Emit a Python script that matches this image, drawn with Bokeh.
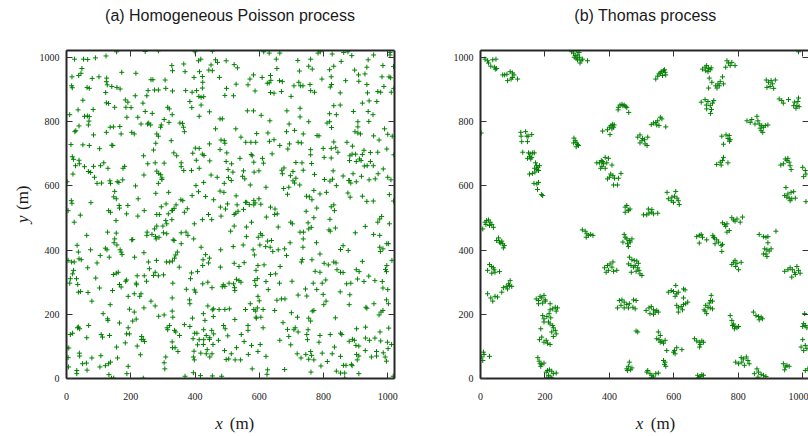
import math
from bokeh.plotting import figure
from bokeh.layouts import row, column
from bokeh.models import Range1d, FixedTicker, LinearAxis, ColumnDataSource
from bokeh.core.properties import value
from bokeh.embed import file_html
from bokeh.resources import INLINE

# ---------------- data (metres) ----------------
poisson_x = [
    156,245,286,400,454,
    25,53,66,90,123,418,411,464,470,
    328,365,450,
    48,330,414,443,454,17,38,45,80,101,125,172,216,263,269,307,369,397,423,476,
    124,127,141,16,18,64,71,167,157,274,254,286,309,330,371,391,405,423,424,412,419,427,
    51,122,124,131,183,191,214,250,238,150,185,201,315,320,384,390,419,445,
    36,83,10,56,65,71,70,68,188,222,245,267,252,256,262,232,304,295,319,329,353,361,413,478,
    39,29,26,84,124,136,146,166,170,203,211,281,286,293,364,367,464,
    14,51,71,103,141,144,278,326,445,478,481,
    18,22,39,40,56,240,271,334,343,393,401,413,423,428,446,404,253,276,304,181,176,129,116,106,84,28,20,2,
    68,75,87,95,281,287,293,297,241,357,357,365,389,413,450,427,469,
    109,135,137,158,163,175,215,286,297,403,411,391,362,356,433,458,478,479,
    150,147,155,15,17,76,164,165,191,223,278,318,335,330,341,295,310,376,
    614,631,664,783,790,827,863,876,1007,1007,
    497,522,532,653,720,760,888,956,939,855,1018,985,
    655,725,754,765,819,832,897,935,571,582,609,635,636,631,663,672,795,824,869,909,929,910,982,1004,1009,
    528,565,625,708,723,728,736,758,821,825,935,988,498,493,520,587,635,646,669,699,760,772,852,937,969,978,1011,1019,
    921,942,966,832,852,727,686,563,582,606,819,840,893,939,954,727,633,693,754,811,819,825,907,907,941,990,
    527,485,710,685,627,592,491,493,543,558,574,589,632,646,664,694,721,731,737,780,786,898,907,915,956,1000,1014,973,873,890,832,
    689,760,799,824,838,926,499,540,575,578,640,610,760,802,824,845,882,889,900,912,921,946,969,997,1019,
    497,514,583,613,714,733,763,881,902,917,946,927,936,955,986,503,518,551,584,599,670,677,672,697,705,737,772,830,861,880,892,902,918,942,961,970,1000,1010,
    491,504,513,548,555,572,621,676,692,710,726,714,705,803,820,828,840,885,879,
    490,528,557,561,583,587,599,605,688,747,756,764,770,789,809,876,883,921,935,955,1005,1018,
    501,531,551,569,583,495,635,649,779,824,832,
    5,43,131,137,187,222,242,281,289,317,328,367,442,452,24,154,274,281,300,312,309,328,398,423,481,
    63,128,155,150,148,157,75,121,126,167,170,206,203,251,250,266,277,279,288,302,312,332,335,357,372,378,357,396,419,480,33,37,
    5,16,24,39,46,66,95,105,133,173,212,241,255,280,258,311,321,330,336,340,345,351,389,408,424,425,433,445,479,442,
    22,19,12,10,31,35,91,103,146,155,161,143,165,170,184,187,220,217,218,242,249,276,271,286,302,331,373,386,398,424,440,453,485,
    37,44,67,79,192,211,228,232,276,329,383,384,402,440,454,458,475,
    136,196,241,263,287,304,329,331,114,128,129,211,392,426,431,457,
    37,41,34,69,12,19,108,112,134,165,192,206,217,187,196,234,239,313,315,321,336,340,352,367,384,399,406,427,446,452,435,458,
    63,1,7,40,41,156,183,220,233,243,329,330,394,408,413,426,427,445,456,473,
    5,79,107,159,192,230,309,338,347,397,395,398,418,438,446,453,435,
    50,62,64,32,32,6,104,121,131,137,132,140,147,188,239,304,306,369,395,417,454,
    522,527,534,622,648,656,746,770,820,834,981,975,969,1005,522,511,560,576,659,698,703,727,738,752,754,762,817,821,837,899,930,956,975,
    560,597,604,609,626,638,602,620,634,642,659,679,685,696,737,736,778,789,853,861,877,975,985,997,1002,977,
    519,550,581,585,522,537,553,596,615,590,665,651,635,731,734,764,774,789,802,815,832,839,842,853,861,902,911,921,941,997,996,993,1013,
    488,493,506,520,523,524,529,537,543,586,594,589,621,628,663,702,744,768,779,796,807,852,872,885,882,906,926,960,983,985,1000,
    493,507,557,572,583,589,594,600,596,612,648,655,669,680,721,748,765,770,799,808,801,880,932,935,957,973,979,985,996,1002,
    524,565,565,590,605,591,612,674,700,719,754,760,752,688,708,712,837,903,931,976,1003,
    489,494,502,544,553,576,603,596,621,664,692,698,721,748,750,786,789,821,834,853,857,880,890,896,901,910,931,943,960,978,999,1012,
    492,505,497,513,525,529,542,566,718,730,745,754,763,770,760,796,827,853,903,910,905,930,949,965,965,986,992,996,1001,
    578,626,624,679,761,792,812,840,853,866,866,862,870,887,889,910,1017,483,
]
poisson_y = [
    1018,1019,1021,1018,1020,
    995,995,994,999,1005,995,990,993,985,
    975,980,977,
    966,959,956,961,959,940,944,951,935,940,936,954,951,931,931,930,956,938,941,938,
    925,915,910,912,906,907,904,902,907,899,897,899,904,896,897,892,897,905,923,879,876,878,
    867,891,859,857,868,861,881,881,858,845,845,844,845,840,863,844,852,831,
    837,838,822,817,818,816,802,790,814,814,832,826,793,796,790,793,807,790,798,822,796,795,817,809,
    787,772,769,759,767,783,784,785,762,767,762,762,755,783,783,769,778,
    729,728,726,716,727,726,733,741,731,713,743,
    691,683,680,669,660,694,712,703,694,702,718,717,699,695,678,680,669,672,671,661,655,655,672,663,661,663,637,613,
    645,642,627,608,646,639,635,625,634,672,660,648,648,655,634,611,627,
    609,616,608,613,611,619,600,608,620,601,582,570,554,557,567,557,584,534,
    583,566,560,554,546,548,539,531,539,560,577,580,530,524,541,535,544,529,
    1018,1014,1014,1014,1018,1011,1016,1018,1016,1008,
    990,978,968,995,991,995,1006,1008,993,988,972,975,
    966,958,973,964,962,973,961,970,933,946,938,944,929,921,928,925,933,940,928,946,949,926,940,940,937,
    917,915,920,912,923,912,912,916,908,916,916,910,904,882,881,896,891,889,894,879,897,892,890,890,894,892,892,904,
    858,865,863,850,852,842,834,834,834,820,825,822,832,832,822,815,803,793,800,796,800,782,800,784,801,778,
    778,809,773,769,765,763,741,733,752,736,736,736,739,744,726,731,736,734,762,757,756,769,765,762,756,761,755,743,736,724,737,
    715,713,717,717,719,711,703,686,698,694,700,686,697,689,687,705,694,699,699,684,698,704,705,715,697,
    676,669,674,671,673,672,670,679,676,679,676,662,663,663,653,651,643,647,643,647,649,656,638,632,645,649,636,647,631,617,638,613,630,619,622,638,627,619,
    608,626,617,630,622,603,596,592,596,609,603,624,616,620,615,621,601,609,617,
    580,569,549,549,555,547,560,543,574,568,566,557,586,575,580,578,565,568,552,553,573,553,
    544,541,527,542,541,528,534,528,531,535,541,
    523,509,523,518,513,506,523,511,511,513,523,518,511,495,487,492,466,475,475,482,492,495,482,495,506,
    446,456,453,435,423,416,401,406,401,401,394,433,432,456,446,449,442,435,440,454,451,432,430,454,456,446,420,435,409,401,415,394,
    368,363,363,373,370,345,360,383,378,386,378,392,363,368,342,363,363,366,375,385,394,347,329,333,352,370,386,375,347,360,
    337,326,311,297,311,293,313,282,324,328,331,274,293,285,303,307,320,297,292,320,303,331,321,320,323,297,278,311,276,295,300,283,286,
    269,271,268,241,256,264,256,264,226,251,245,233,269,226,214,217,215,
    230,216,220,241,194,198,210,191,202,186,181,207,188,202,181,193,
    160,155,158,165,137,141,137,129,134,173,158,179,185,139,139,131,122,158,152,165,150,145,134,168,162,141,141,152,127,150,134,139,
    127,96,95,79,70,98,111,101,121,115,114,96,124,105,121,106,121,122,106,119,
    65,64,71,64,38,74,67,96,84,85,67,58,79,90,67,77,77,
    46,48,26,25,15,36,36,40,46,51,12,1,1,15,1,49,30,7,18,9,8,
    511,515,521,503,511,513,521,501,496,523,505,497,487,482,475,459,472,487,472,487,482,456,456,485,466,471,463,459,469,454,474,449,446,
    442,440,451,446,428,430,416,411,409,396,401,404,383,423,435,409,423,388,402,414,399,409,404,420,420,396,
    411,416,401,385,359,349,361,352,354,337,349,326,324,363,371,370,334,331,359,354,363,360,339,331,330,339,333,365,319,352,333,340,368,
    292,287,297,295,283,274,309,305,300,305,311,290,302,277,297,303,279,297,277,297,307,270,295,297,261,310,302,305,302,282,277,
    215,217,215,233,215,210,220,242,256,215,212,244,248,248,260,257,210,212,262,241,230,230,222,219,233,198,207,212,245,233,
    184,165,150,191,191,188,158,174,205,191,188,179,152,153,152,158,189,155,160,145,157,
    165,155,133,137,115,103,106,84,69,119,131,105,145,137,121,113,134,137,98,141,137,116,122,119,103,101,126,119,126,117,113,106,
    87,61,59,77,58,96,58,75,77,64,75,60,72,58,84,79,77,69,75,70,58,87,67,84,70,80,67,54,93,
    30,27,13,28,20,39,53,23,17,17,1,41,41,44,40,15,7,7,
]

thomas_x = [
    14,22,25,38,48,32,43,50,46,
    69,75,82,92,99,104,99,84,95,115,
    283,289,294,297,301,307,312,309,302,291,332,317,299,306,
    428,433,439,446,451,454,427,460,442,
    379,394,400,405,410,415,402,408,413,2,
    125,140,159,126,144,148,128,146,
    290,294,289,297,301,297,304,
    131,149,154,162,167,152,146,156,159,171,174,168,178,183,175,169,152,161,180,166,175,180,177,189,193,
    361,369,375,379,387,397,392,382,377,373,387,408,
    394,400,404,411,416,428,436,413,425,449,454,459,464,
    987,544,550,554,561,568,573,575,565,558,571,
    689,697,702,708,713,716,706,699,765,770,780,790,775,761,
    710,718,751,744,737,730,754,708,734,741,
    887,894,902,915,889,899,910,906,
    927,935,940,956,975,972,982,987,989,979,985,
    685,697,706,724,701,713,702,717,714,720,
    530,537,544,550,558,563,547,554,575,
    827,837,842,858,861,865,873,878,884,892,871,876,868,852,
    488,495,503,509,519,495,511,517,501,
    749,762,772,775,768,754,773,
    733,744,751,754,768,747,
    932,946,954,958,961,964,951,940,
    1000,1008,1003,1010,
    579,606,583,594,602,610,599,614,617,592,
    948,964,972,944,951,958,966,977,954,961,1010,521,532,
    449,459,7,14,19,25,30,35,40,28,17,
    316,325,330,335,342,349,328,446,449,454,462,470,442,456,459,465,
    50,56,59,63,69,74,71,66,
    462,470,477,459,467,475,468,
    385,394,402,411,408,397,390,423,413,
    22,28,34,40,35,45,59,42,
    66,71,80,87,92,97,84,90,22,32,38,45,53,
    173,180,185,190,197,201,193,180,216,216,224,232,239,235,201,
    425,431,439,446,454,462,475,483,480,473,446,459,436,
    193,197,206,213,218,197,211,216,224,226,232,221,235,226,187,190,183,197,208,216,204,
    4,9,11,7,28,178,182,185,190,197,187,
    204,208,214,221,226,235,211,216,206,221,454,459,462,466,470,456,
    506,516,523,530,537,550,751,757,761,765,780,785,790,796,806,813,765,772,
    671,679,685,689,679,702,721,726,733,739,728,747,751,749,723,
    865,878,886,892,917,892,882,889,896,902,886,878,889,
    485,490,480,488,492,495,501,483,780,785,790,796,809,792,801,
    944,954,961,968,975,982,987,992,977,966,
    583,592,599,606,609,614,630,635,630,604,609,614,623,630,637,643,614,627,
    694,699,706,710,714,720,716,713,720,702,697,
    514,523,530,537,542,547,552,537,526,488,483,
    775,780,785,790,796,801,788,782,847,855,863,871,865,875,
    1000,1003,1008,1013,1006,552,558,547,554,563,573,568,578,558,
    599,604,609,625,602,664,671,679,687,692,682,680,1000,995,1008,1013,1003,
    792,801,809,816,825,830,834,819,811,568,573,575,571,940,946,951,958,944,
    850,858,863,871,878,886,861,516,526,532,537,544,552,530,519,674,682,687,692,677,1008,1016,
]
thomas_y = [
    995,990,983,993,995,973,970,966,964,
    946,946,948,956,952,946,938,928,933,933,
    1018,1014,1006,998,993,1001,990,983,1008,1001,990,995,1021,1016,
    845,852,854,852,848,844,837,829,850,
    771,775,783,788,792,790,760,778,783,765,
    767,769,760,755,755,755,738,738,
    749,741,734,736,729,722,726,
    705,703,700,703,703,691,686,684,689,672,663,655,658,663,651,643,637,639,648,608,606,611,589,573,570,
    672,672,679,676,689,686,672,669,661,655,655,665,
    622,627,637,632,624,624,639,603,603,534,539,525,528,
    1018,933,942,949,956,959,954,946,944,952,962,
    964,970,975,966,962,968,956,959,990,983,985,975,975,970,
    936,923,940,925,918,912,918,905,905,912,
    930,923,928,930,907,910,904,918,
    871,866,858,869,861,850,850,874,847,842,863,
    861,869,863,866,852,850,840,838,826,858,
    791,796,798,803,814,809,790,788,784,
    803,798,807,817,803,793,788,783,788,790,772,767,780,793,
    752,759,748,744,752,734,731,726,741,
    755,759,757,744,748,730,739,
    667,674,679,689,672,665,
    665,684,686,674,663,651,679,669,
    658,648,629,637,
    580,583,560,565,568,562,549,554,542,554,
    595,580,582,570,565,562,560,562,575,554,551,528,526,
    518,523,466,487,492,494,487,480,471,477,480,
    463,459,451,446,449,446,440,449,440,435,430,435,425,420,411,425,
    430,438,425,422,420,414,407,428,
    378,370,368,357,352,347,331,
    345,352,357,363,347,337,331,337,334,
    337,355,349,345,328,331,333,339,
    269,283,287,295,305,287,279,290,264,251,241,256,254,
    248,243,256,251,259,245,235,233,233,214,217,222,220,210,241,
    220,243,245,238,231,233,245,243,217,222,220,220,228,
    196,186,193,202,189,176,176,170,165,158,150,145,139,131,155,129,121,113,110,106,119,
    67,82,75,56,69,65,54,46,44,48,38,
    20,25,27,23,15,17,10,4,2,2,30,38,51,27,33,25,
    510,510,515,518,513,515,485,480,474,482,501,494,490,497,487,503,456,461,
    442,446,449,440,422,432,446,438,432,425,420,414,418,396,440,
    449,442,440,442,459,423,404,401,397,404,388,388,380,
    366,359,352,345,337,326,321,334,355,362,368,359,362,349,339,
    334,339,345,339,331,349,337,328,324,316,
    269,274,271,290,264,269,279,276,251,256,228,220,224,231,233,238,207,214,
    214,228,222,235,243,241,259,220,217,202,210,
    212,220,224,214,207,212,207,200,202,145,148,
    196,181,170,162,158,162,155,165,207,196,193,191,183,186,
    162,171,165,158,202,145,134,124,121,116,119,110,87,113,
    82,77,96,90,87,124,117,113,117,113,106,98,121,98,103,93,87,
    51,46,65,61,67,56,46,41,51,56,51,38,44,46,36,41,38,27,
    15,30,20,13,10,6,4,20,15,10,5,15,17,2,25,10,6,12,10,2,25,30,
]

tick_values = [0, 200, 400, 600, 800, 1000]
panel_titles = ["(a) Homogeneous Poisson process", "(b) Thomas process"]
x_name, y_name, unit_text = "x", "y", "(m)"

# ---------------- styling ----------------
GREEN = "#008000"
FRAME = "#262626"
TEXT = "#1a1a1a"
SERIF = "Liberation Serif"
SANS = "Liberation Sans"

TOP_H, MAIN_H, BOT_H = 36, 372, 28
YLAB_W = 36


def style_axis(ax, labels=True, line=True):
    ax.ticker = FixedTicker(ticks=tick_values)
    ax.major_tick_in = 6
    ax.major_tick_out = 0
    ax.major_tick_line_color = "#333333"
    ax.major_tick_line_width = 1
    ax.minor_tick_line_color = None
    ax.axis_line_color = FRAME if line else None
    ax.axis_line_width = 2
    if labels:
        ax.major_label_text_font = SERIF
        ax.major_label_text_font_size = "10px"
        ax.major_label_text_color = TEXT
    else:
        ax.major_label_text_font_size = "0px"
        ax.major_label_standoff = 0
        ax.major_label_text_color = None


def make_panel(xs, ys, width, x_end, border_left, border_right, right_line):
    n = min(len(xs), len(ys))
    src = ColumnDataSource(dict(x=xs[:n], y=ys[:n]))
    p = figure(width=width, height=MAIN_H,
               x_range=Range1d(0, x_end), y_range=Range1d(0, 1022),
               output_backend="svg", toolbar_location=None,
               min_border_left=border_left, min_border_right=border_right,
               min_border_top=14, min_border_bottom=30)
    p.outline_line_color = None
    p.grid.grid_line_color = None
    p.background_fill_color = "white"
    p.border_fill_color = "white"
    style_axis(p.xaxis[0])
    p.xaxis[0].major_label_standoff = 14
    style_axis(p.yaxis[0])
    p.yaxis[0].major_label_standoff = 7
    top = LinearAxis()
    style_axis(top, labels=False)
    p.add_layout(top, "above")
    right = LinearAxis()
    style_axis(right, labels=False, line=right_line)
    p.add_layout(right, "right")
    p.scatter("x", "y", source=src, marker="cross", size=5,
              line_color=GREEN, line_width=1)
    return p


def text_strip(width, height):
    s = figure(width=width, height=height,
               x_range=Range1d(0, width), y_range=Range1d(0, height),
               output_backend="svg", toolbar_location=None,
               x_axis_location=None, y_axis_location=None,
               min_border_left=0, min_border_right=0,
               min_border_top=0, min_border_bottom=0)
    s.outline_line_color = None
    s.grid.visible = False
    s.background_fill_color = "white"
    s.border_fill_color = "white"
    return s


def put_text(s, x, y, text, size, font, style="normal", align="center",
             baseline="middle", angle=0.0):
    s.text(x=[x], y=[y], text=[text], text_font=value(font),
           text_font_size=value(size), text_font_style=value(style),
           text_align=value(align), text_baseline=value(baseline),
           text_color=TEXT, angle=angle)


p1 = make_panel(poisson_x, poisson_y, 402, 1021, 29, 44, True)
p2 = make_panel(thomas_x, thomas_y, 370, 1018, 42, 0, False)

# titles strip (centres at page x 229.5 / 645, y 15)
top_strip = text_strip(808, TOP_H)
put_text(top_strip, 229.5, TOP_H - 15, panel_titles[0], "16px", SANS)
put_text(top_strip, 645, TOP_H - 15, panel_titles[1], "16px", SANS)

# y label strip (rotated; italic variable + upright unit), centre x ~22
ylab = text_strip(YLAB_W, MAIN_H)
put_text(ylab, 22, MAIN_H - (227.5 - TOP_H), y_name, "17px", SERIF,
         style="italic", angle=math.pi / 2)
put_text(ylab, 22, MAIN_H - (203 - TOP_H), unit_text, "17px", SERIF,
         angle=math.pi / 2)

# x label strip, centre y ~423
bot_strip = text_strip(808, BOT_H)
yc = BOT_H - (423 - (TOP_H + MAIN_H))
put_text(bot_strip, 218.5, yc, x_name, "17px", SERIF, style="italic")
put_text(bot_strip, 241.5, yc, unit_text, "17px", SERIF)
put_text(bot_strip, 639, yc, x_name, "17px", SERIF, style="italic")
put_text(bot_strip, 662.5, yc, unit_text, "17px", SERIF)

layout = column(top_strip, row(ylab, p1, p2), bot_strip)
open("out.html", "w").write(file_html(layout, INLINE))
